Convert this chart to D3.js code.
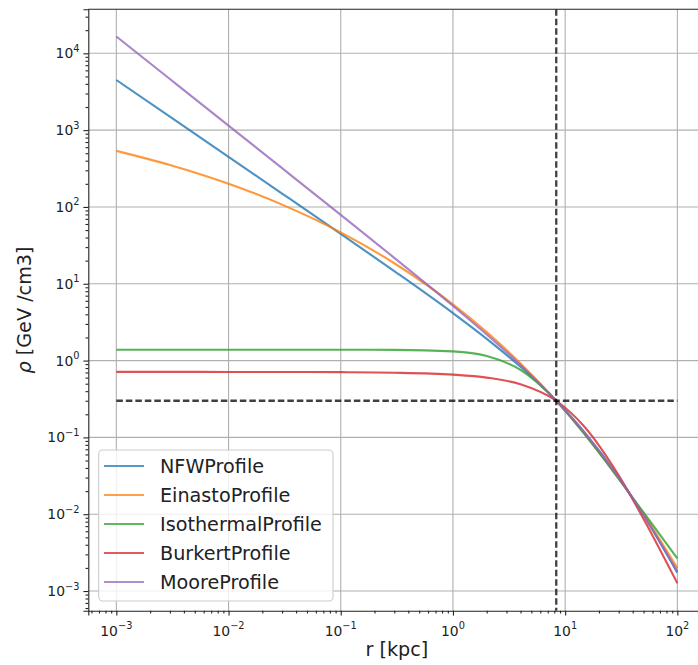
<!DOCTYPE html>
<html>
<head>
<meta charset="utf-8">
<script src="https://cdn.jsdelivr.net/npm/d3@7"></script>
<style>
  body { margin: 0; background: #fff; }
  svg { font-family: "DejaVu Sans", sans-serif; }
</style>
</head>
<body>
<svg id="chart" width="698" height="665"></svg>
<script>
// radius in kpc, and density in GeV/cm3 for each profile
var rKpc = [0.001, 0.003, 0.01, 0.03, 0.1, 0.3, 1, 2, 4, 8.33, 15, 30, 50, 100];
var nfw = [4494, 1498, 449.1, 149.5, 44.58, 14.62, 4.148, 1.920, 0.8296, 0.3, 0.1150, 0.03017, 0.009679, 0.001731];
var einasto = [537.2, 352.2, 200.5, 107.3, 46.65, 18.50, 5.395, 2.346, 0.9194, 0.3, 0.1099, 0.02938, 0.01001, 0.001983];
var isothermal = [1.3851, 1.3851, 1.3851, 1.3850, 1.3844, 1.3786, 1.3165, 1.1461, 0.7552, 0.3, 0.1088, 0.02891, 0.01055, 0.002652];
var burkert = [0.7121, 0.7120, 0.7116, 0.7105, 0.7066, 0.6953, 0.6560, 0.6001, 0.4922, 0.3, 0.1358, 0.03201, 0.008687, 0.001265];
var moore = [16567, 4632, 1145.6, 319.9, 78.82, 21.77, 5.169, 2.183, 0.8745, 0.3, 0.1131, 0.02990, 0.009764, 0.001792];

var names = ["NFWProfile", "EinastoProfile", "IsothermalProfile", "BurkertProfile", "MooreProfile"];
var series = [nfw, einasto, isothermal, burkert, moore];
var colors = ["#1f77b4", "#ff7f0e", "#2ca02c", "#d62728", "#9467bd"];

var rSun = 8.33;
var rhoSun = 0.3;
var rRange = [0.001, 100];

var xTicks = [1e-3, 1e-2, 1e-1, 1e0, 1e1, 1e2];
var yTicks = [1e-3, 1e-2, 1e-1, 1e0, 1e1, 1e2, 1e3, 1e4];

// plot box (window.top is read-only, so own names)
var pL = 88.3, pR = 705.4, pT = 9.3, pB = 610.7;

var x = d3.scaleLog().domain([Math.pow(10, -3.25), Math.pow(10, 2.25)]).range([pL, pR]);
var y = d3.scaleLog().domain([Math.pow(10, -3.256), Math.pow(10, 4.573)]).range([pB, pT]);

var svg = d3.select("#chart");

function minors(scale) {
  var d = scale.domain(), out = [];
  for (var e = -5; e <= 5; e++) {
    for (var m = 2; m <= 9; m++) {
      var v = m * Math.pow(10, e);
      if (v >= d[0] && v <= d[1]) out.push(v);
    }
  }
  return out;
}

// grid
var grid = svg.append("g").attr("stroke", "#b0b0b0").attr("stroke-width", 1.1);
grid.selectAll(".gx").data(xTicks).enter().append("line")
  .attr("x1", d => x(d)).attr("x2", d => x(d)).attr("y1", pT).attr("y2", pB);
grid.selectAll(".gy").data(yTicks).enter().append("line")
  .attr("x1", pL).attr("x2", pR).attr("y1", d => y(d)).attr("y2", d => y(d));

// curves
var line = d3.line()
  .x((d, i) => x(rKpc[i]))
  .y(d => y(d))
  .curve(d3.curveMonotoneX);

svg.append("g").selectAll("path")
  .data(series).enter().append("path")
  .attr("d", d => line(d))
  .attr("fill", "none")
  .attr("stroke", (d, i) => colors[i])
  .attr("stroke-opacity", 0.8)
  .attr("stroke-width", 2.1);

// sun position
svg.append("line")
  .attr("x1", x(rSun)).attr("x2", x(rSun)).attr("y1", pT).attr("y2", pB)
  .attr("stroke", "#000").attr("stroke-opacity", 0.75).attr("stroke-width", 2.3)
  .attr("stroke-dasharray", "6.5,3");
svg.append("line")
  .attr("x1", x(rRange[0])).attr("x2", x(rRange[1])).attr("y1", y(rhoSun)).attr("y2", y(rhoSun))
  .attr("stroke", "#000").attr("stroke-opacity", 0.75).attr("stroke-width", 2.3)
  .attr("stroke-dasharray", "6.5,3");

// axes
svg.append("g").attr("transform", "translate(0," + pB + ")")
  .call(d3.axisBottom(x).tickValues(xTicks).tickSize(4.9).tickFormat(""));
svg.append("g").attr("transform", "translate(0," + pB + ")")
  .call(d3.axisBottom(x).tickValues(minors(x)).tickSize(2.8).tickFormat(""))
  .select(".domain").remove();
svg.append("g").attr("transform", "translate(" + pL + ",0)")
  .call(d3.axisLeft(y).tickValues(yTicks).tickSize(4.9).tickFormat(""));
svg.append("g").attr("transform", "translate(" + pL + ",0)")
  .call(d3.axisLeft(y).tickValues(minors(y)).tickSize(2.8).tickFormat(""))
  .select(".domain").remove();
svg.selectAll(".domain").attr("stroke", "#222").attr("stroke-width", 1.1);
svg.selectAll(".tick line").attr("stroke", "#222").attr("stroke-width", 1.1);

// top spine
svg.append("line").attr("x1", pL).attr("x2", pR).attr("y1", pT).attr("y2", pT)
  .attr("stroke", "#222").attr("stroke-width", 1.1);

function expLabel(sel, v) {
  var e = Math.round(Math.log10(v));
  sel.append("tspan").text("10");
  sel.append("tspan").attr("dy", -6.5).attr("font-size", 9.8)
    .text(String(e).replace("-", "\u2212"));
}

svg.append("g").selectAll("text").data(xTicks).enter().append("text")
  .attr("x", d => x(d)).attr("y", 635.5)
  .attr("text-anchor", "middle").attr("font-size", 13.9).attr("fill", "#222")
  .each(function (d) { expLabel(d3.select(this), d); });

svg.append("g").selectAll("text").data(yTicks).enter().append("text")
  .attr("x", 79.5).attr("y", d => y(d) + 5)
  .attr("text-anchor", "end").attr("font-size", 13.9).attr("fill", "#222")
  .each(function (d) { expLabel(d3.select(this), d); });

// axis labels
svg.append("text")
  .attr("x", (pL + pR) / 2).attr("y", 656)
  .attr("text-anchor", "middle").attr("font-size", 19.2).attr("fill", "#222")
  .text("r [kpc]");

var yl = svg.append("text")
  .attr("transform", "translate(31," + ((pT + pB) / 2) + ") rotate(-90)")
  .attr("text-anchor", "middle").attr("font-size", 19.2).attr("fill", "#222");
yl.append("tspan").attr("font-style", "italic").text("\u03c1");
yl.append("tspan").text(" [GeV /cm3]");

// legend
var lg = svg.append("g");
lg.append("rect")
  .attr("x", 98.7).attr("y", 450).attr("width", 234.3).attr("height", 151)
  .attr("rx", 4).attr("fill", "#fff").attr("fill-opacity", 0.8)
  .attr("stroke", "#cccccc").attr("stroke-width", 1.1);
var item = lg.selectAll(".item").data(names).enter().append("g")
  .attr("transform", (d, i) => "translate(0," + (466 + i * 29) + ")");
item.append("line")
  .attr("x1", 104).attr("x2", 144)
  .attr("stroke", (d, i) => colors[i]).attr("stroke-opacity", 0.75).attr("stroke-width", 2.1);
item.append("text")
  .attr("x", 160).attr("y", 7)
  .attr("font-size", 19.2).attr("fill", "#222")
  .text(d => d);
</script>
</body>
</html>
